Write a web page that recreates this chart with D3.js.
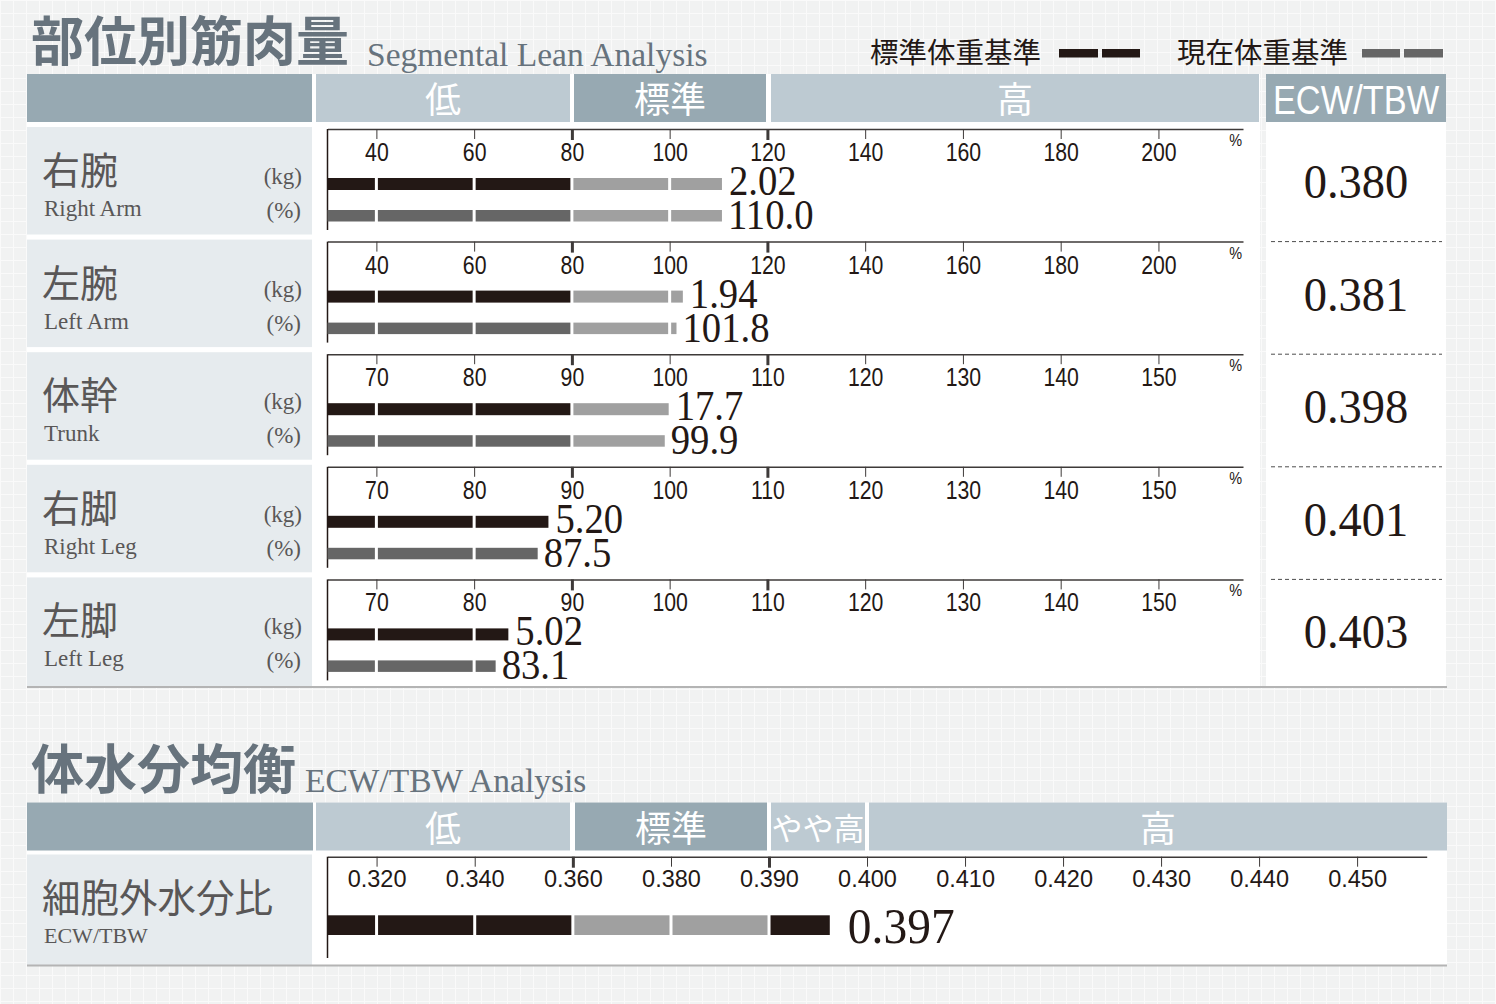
<!DOCTYPE html>
<html>
<head>
<meta charset="utf-8">
<script src="https://cdn.jsdelivr.net/npm/d3@7"></script>
<style>
  body { margin: 0; background: #f1f2f2; }
  svg { display: block; }
</style>
</head>
<body>
<svg id="chart"></svg>
<script>
// ---- data ----
const segmentsJa = ["右腕", "左腕", "体幹", "右脚", "左脚"];
const segmentsEn = ["Right Arm", "Left Arm", "Trunk", "Right Leg", "Left Leg"];
const leanKg = [2.02, 1.94, 17.7, 5.20, 5.02];
const leanPct = [110.0, 101.8, 99.9, 87.5, 83.1];
// bar ends (% of standard)
const kgBarPos = [110.7, 102.7, 99.9, 87.6, 83.5];
const pctBarPos = [110.7, 101.4, 99.5, 86.5, 82.2];
const segEcw = [0.380, 0.381, 0.398, 0.401, 0.403];
const armTicks = [40, 60, 80, 100, 120, 140, 160, 180, 200];
const legTicks = [70, 80, 90, 100, 110, 120, 130, 140, 150];
const armRange = [80, 120];
const legRange = [90, 110];
const rangeLabels = ["低", "標準", "高"];

const ecwTotal = 0.397;
const ecwBarPos = 0.3962;
const ecwTicks = [0.320, 0.340, 0.360, 0.380, 0.390, 0.400, 0.410, 0.420, 0.430, 0.440, 0.450];
const ecwRange = [0.360, 0.390];
const ecwLabels = ["低", "標準", "やや高", "高"];

// ---- style ----
const W = 1496, H = 1004;
const cjk = '"Noto Sans CJK JP", "Noto Sans CJK SC", sans-serif';
const sans = '"Liberation Sans", Arial, sans-serif';
const serif = '"Liberation Serif", "Times New Roman", serif';
const cDark = "#231815", cMid = "#666666", cLight = "#a0a0a0";
const hdrDark = "#97a9b2", hdrLight = "#bdcad2", cellBg = "#e6ebee";
const titleCol = "#67737d", labelCol = "#595757";

const svg = d3.select("#chart").attr("width", W).attr("height", H);

// background grid
const defs = svg.append("defs");
const pat = defs.append("pattern").attr("id", "grid")
  .attr("width", 13).attr("height", 13).attr("patternUnits", "userSpaceOnUse");
pat.append("rect").attr("width", 13).attr("height", 13).attr("fill", "#f1f2f2");
pat.append("path").attr("d", "M0 0.5H13M0.5 0V13").attr("stroke", "#fafafa").attr("stroke-width", 1);
svg.append("rect").attr("width", W).attr("height", H).attr("fill", "url(#grid)");

function txt(g, x, y, s, o) {
  return g.append("text")
    .attr("transform", `translate(${x},${y}) scale(${o.sx || 1},1)`)
    .attr("text-anchor", o.anchor || "start")
    .attr("font-family", o.font)
    .attr("font-size", o.size)
    .attr("font-weight", o.weight || 400)
    .attr("fill", o.fill || cDark)
    .text(s);
}

// segmented bar: gaps at each tick, colour by range
function drawBar(g, x, ticks, range, value, y, h, lowCol) {
  const d0 = x.domain()[0];
  const stops = [d0, ...ticks.filter(t => t < value), value];
  const parts = d3.pairs(stops);
  g.selectAll(null).data(parts).join("rect")
    .attr("x", (d, i) => x(d[0]) + (i ? 1.5 : 0))
    .attr("width", (d, i) => Math.max(0, x(d[1]) - x(d[0]) - (i ? 1.5 : 0) - (d[1] === value ? 0 : 1.5)))
    .attr("y", y).attr("height", h)
    .attr("fill", d => {
      const m = (d[0] + d[1]) / 2;
      return (m < range[0] || m > range[1]) ? lowCol : cLight;
    });
}

function styleAxis(ax, range, labelY, sx, size) {
  ax.select(".domain").attr("stroke", "#3e3a39").attr("stroke-width", 1.5);
  ax.selectAll(".tick line").attr("stroke", "#3e3a39").attr("stroke-width", d => range.includes(d) ? 3 : 1)
    .attr("y2", d => range.includes(d) ? 11 : 10);
  ax.selectAll(".tick text").attr("y", null).attr("dy", null)
    .attr("transform", `translate(0,${labelY}) scale(${sx},1)`)
    .attr("font-family", sans).attr("font-size", size).attr("fill", cDark);
}

// ---- section 1: segmental lean ----
txt(svg, 31, 61, "部位別筋肉量", { font: cjk, size: 53, weight: 700, fill: titleCol });
txt(svg, 367, 66, "Segmental Lean Analysis", { font: serif, size: 33.5, fill: titleCol });

// legend
txt(svg, 870, 63, "標準体重基準", { font: cjk, size: 28.5 });
txt(svg, 1177, 63, "現在体重基準", { font: cjk, size: 28.5 });
[[1059, 1098], [1102, 1140]].forEach(([a, b]) =>
  svg.append("rect").attr("x", a).attr("y", 49).attr("width", b - a).attr("height", 8.5).attr("fill", cDark));
[[1362, 1400], [1404, 1443]].forEach(([a, b]) =>
  svg.append("rect").attr("x", a).attr("y", 49).attr("width", b - a).attr("height", 8.5).attr("fill", cMid));

// panels
svg.append("rect").attr("x", 27).attr("y", 74).attr("width", 1233).attr("height", 613).attr("fill", "#fff");
svg.append("rect").attr("x", 1266).attr("y", 74).attr("width", 180).attr("height", 613).attr("fill", "#fff");

const hdr1 = [
  { x0: 27, x1: 312, fill: hdrDark, t: "" },
  { x0: 316, x1: 570, fill: hdrLight, t: rangeLabels[0] },
  { x0: 574, x1: 766, fill: hdrDark, t: rangeLabels[1] },
  { x0: 771, x1: 1259, fill: hdrLight, t: rangeLabels[2] }
];
hdr1.forEach(c => {
  svg.append("rect").attr("x", c.x0).attr("y", 74).attr("width", c.x1 - c.x0).attr("height", 48).attr("fill", c.fill);
  if (c.t) txt(svg, (c.x0 + c.x1) / 2, 113, c.t, { font: cjk, size: 36, fill: "#fff", anchor: "middle" });
});
svg.append("rect").attr("x", 1266).attr("y", 74).attr("width", 180).attr("height", 48).attr("fill", hdrDark);
txt(svg, 1356, 114, "ECW/TBW", { font: sans, size: 40, fill: "#fff", anchor: "middle", sx: 0.86 });

const armX = d3.scaleLinear().domain([30, 217.3]).range([327.5, 1243]);
const legX = d3.scaleLinear().domain([65, 158.65]).range([327.5, 1243]);
const fmtKg = d3.format(".3r"), fmtPct = d3.format(".1f"), fmtEcw = d3.format(".3f");

segmentsJa.forEach((name, i) => {
  const R = 127 + i * 112.6;
  const isArm = i < 2;
  const x = isArm ? armX : legX;
  const ticks = isArm ? armTicks : legTicks;
  const range = isArm ? armRange : legRange;
  const g = svg.append("g");

  // label cell
  g.append("rect").attr("x", 27).attr("y", R).attr("width", 285).attr("height", i === 4 ? 109 : 107.5).attr("fill", cellBg);
  txt(g, 42, R + 57, name, { font: cjk, size: 38, fill: labelCol });
  txt(g, 44, R + 89, segmentsEn[i], { font: serif, size: 23, fill: labelCol });
  txt(g, 302, R + 57, "(kg)", { font: serif, size: 23, fill: labelCol, anchor: "end" });
  txt(g, 301, R + 91, "(%)", { font: serif, size: 23, fill: labelCol, anchor: "end" });

  // axis
  const ax = g.append("g").attr("transform", `translate(0,${R + 2})`)
    .call(d3.axisBottom(x).tickValues(ticks).tickSize(10).tickSizeOuter(0));
  styleAxis(ax, range, 32, 0.85, 25);
  g.append("line").attr("x1", 327.5).attr("x2", 327.5).attr("y1", R + 2).attr("y2", R + 103)
    .attr("stroke", cDark).attr("stroke-width", 1.5);
  txt(g, 1242, R + 19, "%", { font: sans, size: 17, anchor: "end", sx: 0.85 });

  // bars
  drawBar(g, x, ticks, range, kgBarPos[i], R + 51, 12, cDark);
  drawBar(g, x, ticks, range, pctBarPos[i], R + 83, 11.5, cMid);
  txt(g, x(kgBarPos[i]) + 7, R + 68, fmtKg(leanKg[i]), { font: serif, size: 43, sx: 0.9 });
  txt(g, x(pctBarPos[i]) + 6, R + 102, fmtPct(leanPct[i]), { font: serif, size: 43, sx: 0.9 });

  // ECW column
  txt(g, 1356, R + 71, fmtEcw(segEcw[i]), { font: serif, size: 49, anchor: "middle", sx: 0.95 });
  if (i > 0) {
    g.append("line").attr("x1", 1271).attr("x2", 1442).attr("y1", R + 2).attr("y2", R + 2)
      .attr("stroke", "#4d4d4d").attr("stroke-width", 1).attr("stroke-dasharray", "4,3");
  }
});
svg.append("line").attr("x1", 27).attr("x2", 1447).attr("y1", 687).attr("y2", 687)
  .attr("stroke", "#b4b4b4").attr("stroke-width", 2);

// ---- section 2: ECW/TBW ----
txt(svg, 31, 789, "体水分均衡", { font: cjk, size: 53, weight: 700, fill: titleCol });
txt(svg, 305, 792, "ECW/TBW Analysis", { font: serif, size: 33.5, fill: titleCol });

svg.append("rect").attr("x", 27).attr("y", 802.5).attr("width", 1420).attr("height", 163).attr("fill", "#fff");
const hdr2 = [
  { x0: 27, x1: 313, fill: hdrDark, t: "", s: 36 },
  { x0: 316, x1: 570, fill: hdrLight, t: ecwLabels[0], s: 36 },
  { x0: 575, x1: 767, fill: hdrDark, t: ecwLabels[1], s: 36 },
  { x0: 771, x1: 865, fill: hdrLight, t: ecwLabels[2], s: 31 },
  { x0: 869, x1: 1447, fill: hdrLight, t: ecwLabels[3], s: 36 }
];
hdr2.forEach(c => {
  svg.append("rect").attr("x", c.x0).attr("y", 802.5).attr("width", c.x1 - c.x0).attr("height", 48).attr("fill", c.fill);
  if (c.t) txt(svg, (c.x0 + c.x1) / 2, c.s === 36 ? 841.5 : 840, c.t, { font: cjk, size: c.s, fill: "#fff", anchor: "middle" });
});

svg.append("rect").attr("x", 27).attr("y", 854.5).attr("width", 285).attr("height", 110.5).attr("fill", cellBg);
txt(svg, 42, 912, "細胞外水分比", { font: cjk, size: 38.5, fill: labelCol });
txt(svg, 44, 943, "ECW/TBW", { font: serif, size: 22, fill: labelCol });

const ecwX = d3.scaleLinear().domain([0.31, 0.38, 0.4571]).range([327.5, 671, 1426.7]);
const ax2 = svg.append("g").attr("transform", "translate(0,856.7)")
  .call(d3.axisBottom(ecwX).tickValues(ecwTicks).tickFormat(fmtEcw).tickSize(10).tickSizeOuter(0));
styleAxis(ax2, ecwRange, 30, 1, 23.5);
svg.append("line").attr("x1", 327.5).attr("x2", 327.5).attr("y1", 856.7).attr("y2", 958)
  .attr("stroke", cDark).attr("stroke-width", 1.5);
drawBar(svg.append("g"), ecwX, ecwTicks, ecwRange, ecwBarPos, 915.3, 19.7, cDark);
txt(svg, ecwX(ecwBarPos) + 18, 943, fmtEcw(ecwTotal), { font: serif, size: 50, sx: 0.95 });

svg.append("line").attr("x1", 27).attr("x2", 1447).attr("y1", 965.5).attr("y2", 965.5)
  .attr("stroke", "#b4b4b4").attr("stroke-width", 2);
</script>
</body>
</html>
